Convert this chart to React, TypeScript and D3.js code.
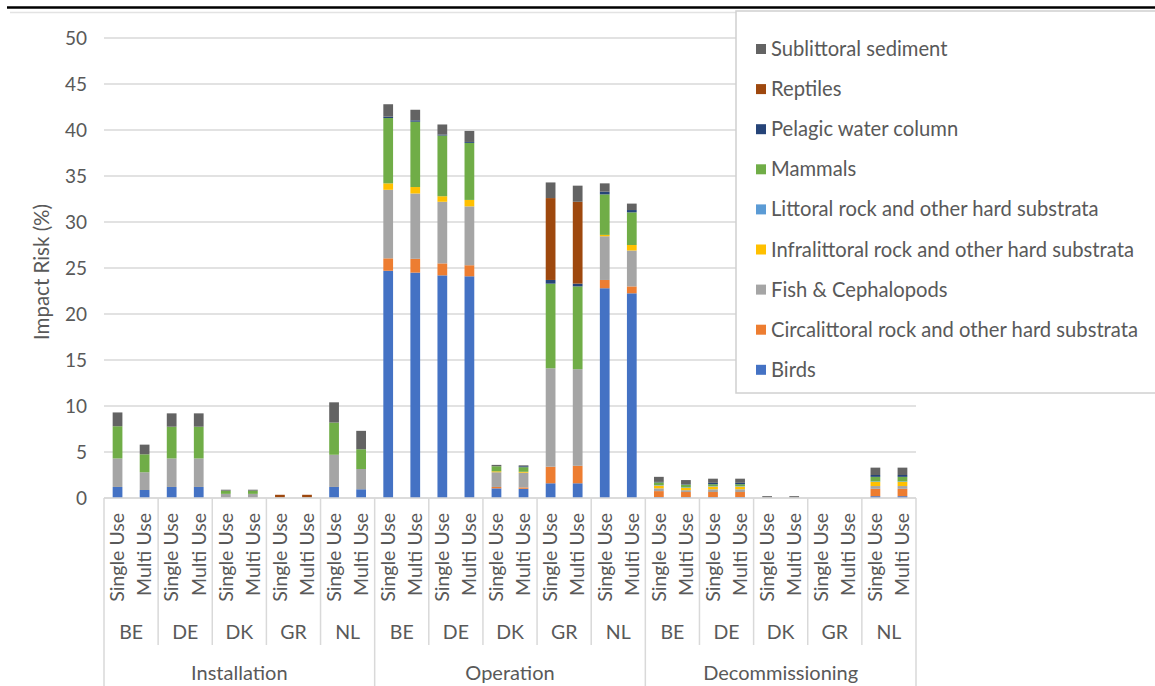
import React from "react";
import * as d3 from "d3";

const phases = ["Installation", "Operation", "Decommissioning"];
const countries = ["BE", "DE", "DK", "GR", "NL"];
const uses = ["Single Use", "Multi Use"];
const yTicks = [0, 5, 10, 15, 20, 25, 30, 35, 40, 45, 50];

// order of values: phase -> country -> use (30 bars)
const birds = [
  1.2, 0.87, 1.2, 1.2, 0, 0, 0, 0, 1.2, 0.95,
  24.7, 24.5, 24.2, 24.1, 1.05, 1.0, 1.6, 1.6, 22.8, 22.25,
  0.1, 0.1, 0.1, 0.1, 0, 0, 0, 0, 0.2, 0.2,
];
const circalittoral = [
  0, 0, 0, 0, 0, 0, 0, 0, 0, 0,
  1.35, 1.5, 1.3, 1.2, 0.15, 0.15, 1.8, 1.9, 0.9, 0.75,
  0.65, 0.55, 0.55, 0.55, 0, 0, 0, 0, 0.8, 0.8,
];
const fish = [
  3.1, 1.93, 3.1, 3.1, 0.45, 0.45, 0.05, 0.05, 3.5, 2.2,
  7.45, 7.1, 6.7, 6.4, 1.6, 1.6, 10.7, 10.5, 4.75, 3.9,
  0.3, 0.2, 0.3, 0.3, 0.05, 0.05, 0, 0, 0.3, 0.3,
];
const infralittoral = [
  0, 0, 0, 0, 0, 0, 0, 0, 0, 0,
  0.7, 0.7, 0.6, 0.7, 0.1, 0.1, 0, 0, 0.15, 0.6,
  0.3, 0.25, 0.3, 0.3, 0, 0, 0, 0, 0.45, 0.45,
];
const littoral = [
  0, 0, 0, 0, 0, 0, 0, 0, 0, 0,
  0, 0, 0, 0, 0, 0, 0, 0, 0, 0,
  0.05, 0.05, 0.05, 0.05, 0, 0, 0, 0, 0.05, 0.05,
];
const mammals = [
  3.5, 1.95, 3.45, 3.45, 0.35, 0.35, 0, 0, 3.5, 2.15,
  7.1, 7.1, 6.6, 6.2, 0.55, 0.5, 9.2, 9.0, 4.4, 3.55,
  0.3, 0.3, 0.2, 0.2, 0, 0, 0, 0, 0.5, 0.5,
];
const pelagic = [
  0, 0, 0, 0, 0, 0, 0, 0, 0, 0,
  0.15, 0.15, 0.1, 0.1, 0, 0.1, 0.4, 0.3, 0.3, 0.25,
  0.05, 0.05, 0.15, 0.15, 0, 0, 0, 0, 0.2, 0.2,
];
const reptiles = [
  0, 0, 0, 0, 0, 0, 0.3, 0.3, 0, 0,
  0, 0, 0, 0, 0, 0, 8.9, 8.9, 0, 0,
  0, 0, 0, 0, 0, 0, 0, 0, 0, 0,
];
const sublittoral = [
  1.5, 1.05, 1.45, 1.45, 0.1, 0.1, 0, 0, 2.2, 2.0,
  1.35, 1.15, 1.1, 1.2, 0.15, 0.1, 1.7, 1.75, 0.9, 0.7,
  0.55, 0.45, 0.45, 0.45, 0.15, 0.15, 0, 0, 0.8, 0.8,
];

const seriesNames = [
  "Birds",
  "Circalittoral rock and other hard substrata",
  "Fish & Cephalopods",
  "Infralittoral rock and other hard substrata",
  "Littoral rock and other hard substrata",
  "Mammals",
  "Pelagic water column",
  "Reptiles",
  "Sublittoral sediment",
];
const seriesValues = [birds, circalittoral, fish, infralittoral, littoral, mammals, pelagic, reptiles, sublittoral];
const seriesColors = ["#4472C4", "#ED7D31", "#A5A5A5", "#FFC000", "#5B9BD5", "#70AD47", "#264478", "#9E480E", "#636363"];

const W = 1155;
const H = 686;
const FONT = "Lato, 'Open Sans', sans-serif";
const TXT = "#595959";

export default function App() {
  const left = 104;
  const right = 916;
  const top = 38;
  const bottom = 498;

  const bars = phases.flatMap((p) => countries.flatMap((c) => uses.map((u) => `${p}|${c}|${u}`)));
  const rows = bars.map((key, i) => {
    const r: Record<string, number | string> = { key };
    seriesNames.forEach((s, k) => (r[s] = seriesValues[k][i]));
    return r;
  });
  const stacked = d3.stack<any>().keys(seriesNames)(rows);

  const x = d3.scaleBand<string>().domain(bars).range([left, right]).paddingInner(0.64).paddingOuter(0.32);
  const y = d3.scaleLinear().domain([0, 50]).range([bottom, top]);
  const step = x.step();

  const countryW = step * uses.length;
  const phaseW = countryW * countries.length;

  const legendOrder = [...seriesNames].reverse();

  return (
    <svg width={W} height={H} style={{ position: "absolute", left: 0, top: 0, background: "#fff" }} fontFamily={FONT}>
      <rect x={0} y={0} width={W} height={H} fill="#fff" />
      {/* top rules */}
      <line x1={7} x2={W} y1={7.5} y2={7.5} stroke="#000" strokeWidth={2.5} />
      <line x1={10} x2={W} y1={12.5} y2={12.5} stroke="#e3e3e3" strokeWidth={1.5} />

      {/* gridlines */}
      {yTicks.map((t) => (
        <line key={t} x1={left} x2={right} y1={y(t)} y2={y(t)} stroke="#d9d9d9" strokeWidth={1.5} />
      ))}
      {/* y tick labels */}
      {yTicks.map((t) => (
        <text key={"l" + t} x={87} y={y(t)} dy="0.35em" textAnchor="end" fontSize={19} fill={TXT}>
          {t}
        </text>
      ))}
      <text
        transform={`translate(49,${(top + bottom) / 2 + 4}) rotate(-90)`}
        textAnchor="middle"
        fontSize={20.5}
        fill={TXT}
      >
        Impact Risk (%)
      </text>

      {/* bars */}
      {stacked.map((layer, k) => (
        <g key={layer.key} fill={seriesColors[k]}>
          {layer.map((d, i) =>
            d[1] - d[0] > 0 ? (
              <rect
                key={i}
                x={x(bars[i])}
                width={x.bandwidth()}
                y={y(d[1])}
                height={y(d[0]) - y(d[1])}
              />
            ) : null
          )}
        </g>
      ))}

      {/* category axis */}
      <line x1={left} x2={right} y1={bottom} y2={bottom} stroke="#d9d9d9" strokeWidth={1.5} />
      {bars.map((b, i) => {
        const u = b.split("|")[2];
        const cx = (x(b) as number) + x.bandwidth() / 2;
        return (
          <text
            key={"u" + i}
            transform={`translate(${cx},513) rotate(-90)`}
            textAnchor="end"
            dy="0.35em"
            fontSize={19.5}
            fill={TXT}
          >
            {u}
          </text>
        );
      })}
      {phases.map((p, pi) => {
        const px = left + pi * phaseW;
        return (
          <g key={p}>
            {countries.map((c, ci) => {
              const cx = px + ci * countryW;
              return (
                <g key={c}>
                  {ci > 0 && <line x1={cx} x2={cx} y1={bottom} y2={645} stroke="#d9d9d9" strokeWidth={1.5} />}
                  <text x={cx + countryW / 2} y={632} dy="0.35em" textAnchor="middle" fontSize={19.5} fill={TXT}>
                    {c}
                  </text>
                </g>
              );
            })}
            <line x1={px} x2={px} y1={bottom} y2={H} stroke="#d9d9d9" strokeWidth={1.5} />
            <text x={px + phaseW / 2} y={673} dy="0.35em" textAnchor="middle" fontSize={20} fill={TXT}>
              {p}
            </text>
          </g>
        );
      })}
      <line x1={right} x2={right} y1={bottom} y2={H} stroke="#d9d9d9" strokeWidth={1.5} />

      {/* legend */}
      <rect x={736} y={11} width={W - 736 + 5} height={382} fill="#fff" stroke="#d0d0d0" strokeWidth={1.5} />
      {legendOrder.map((s, j) => {
        const k = seriesNames.indexOf(s);
        const cy = 49 + j * 40.1;
        return (
          <g key={s}>
            <rect x={756} y={cy - 5} width={10} height={10} fill={seriesColors[k]} />
            <text x={771} y={cy} dy="0.35em" fontSize={20.2} fill={TXT}>
              {s}
            </text>
          </g>
        );
      })}
    </svg>
  );
}
